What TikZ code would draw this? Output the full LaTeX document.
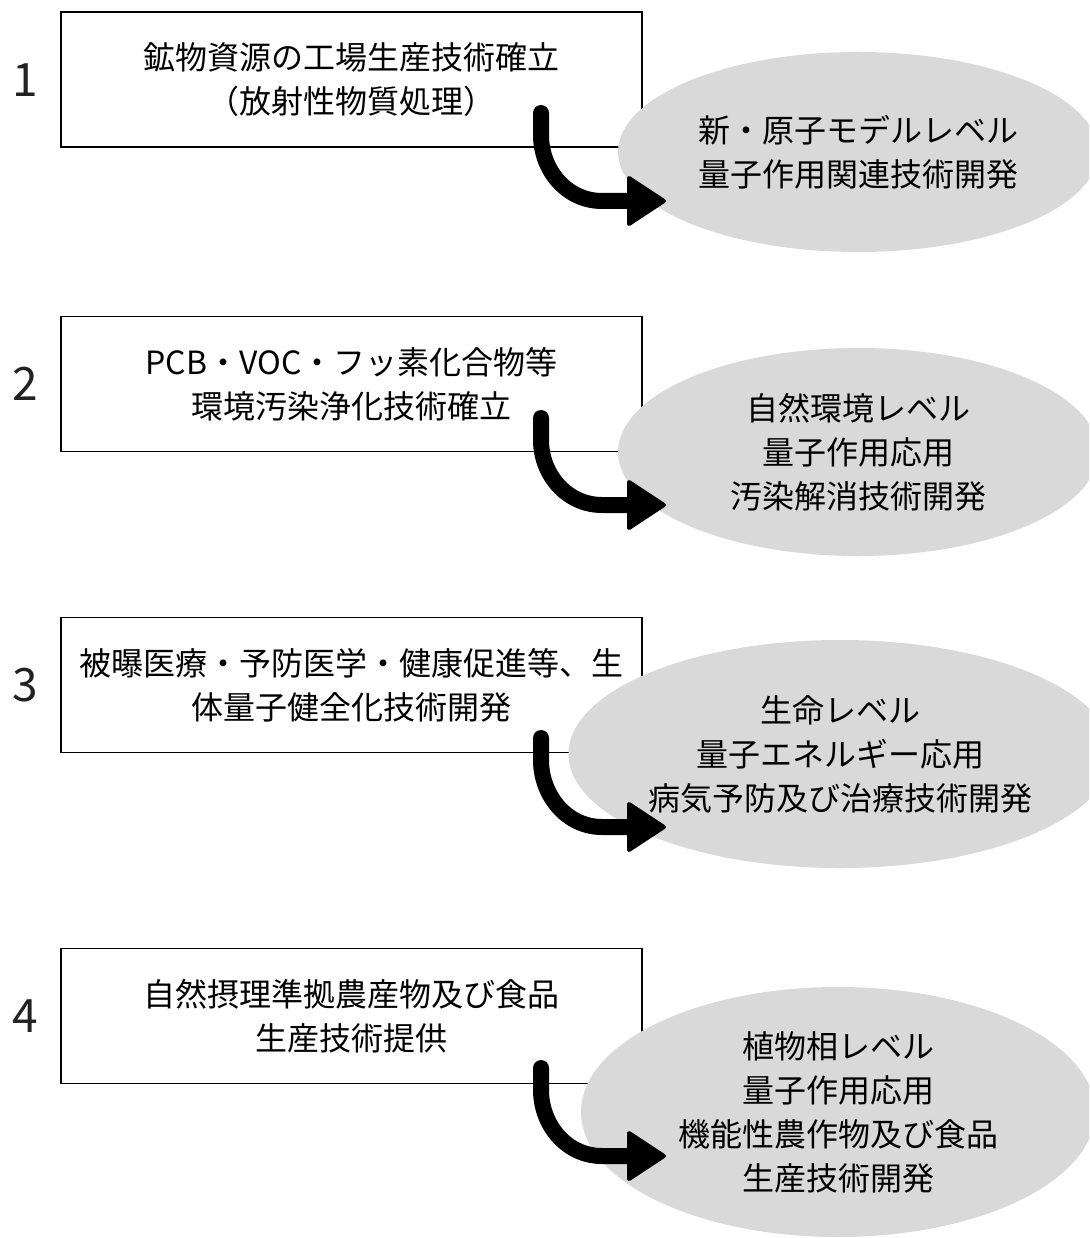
\documentclass[tikz,border=0pt]{standalone}
\usepackage{fontspec}
\setmainfont{Noto Sans CJK JP}
\usetikzlibrary{shapes.geometric,calc}
\definecolor{ellgray}{HTML}{D9D9D9}
\definecolor{numgray}{HTML}{222222}
\begin{document}
\begin{tikzpicture}[x=1pt,y=-1pt,
  box/.style={draw=black,line width=1.6pt,minimum width=581pt,minimum height=135pt,inner sep=0pt,align=center,font=\fontsize{32}{44}\selectfont},
  ell/.style={ellipse,fill=ellgray,inner sep=0pt,align=center,font=\fontsize{32}{44}\selectfont},
  num/.style={inner sep=0pt,text=numgray,font=\fontsize{46}{46}\selectfont},
  shaft/.style={line width=16pt,line cap=round},
  head/.style={fill=black,draw=black,line width=4pt,line join=round}]
\clip (0,0) rectangle (1089,1238);
\fill[white] (0,0) rectangle (1089,1238);

% numbers
\node[num] (n1) at (25,80) {1};
\node[num] (n2) at (25,384) {2};
\node[num] (n3) at (25,685) {3};
\node[num] (n4) at (25,1016) {4};

% boxes
\node[box] (b1) at (351.5,79.5) {鉱物資源の工場生産技術確立\\（放射性物質処理）};
\node[box] (b2) at (351.5,384) {PCB・VOC・フッ素化合物等\\環境汚染浄化技術確立};
\node[box] (b3) at (351.5,685) {被曝医療・予防医学・健康促進等、生\\体量子健全化技術開発};
\node[box] (b4) at (351.5,1016) {自然摂理準拠農産物及び食品\\生産技術提供};

% ellipses
\node[ell,minimum width=480pt,minimum height=200pt] (e1) at (858,152) {新・原子モデルレベル\\量子作用関連技術開発};
\node[ell,minimum width=480pt,minimum height=208pt] (e2) at (858,452) {自然環境レベル\\量子作用応用\\汚染解消技術開発};
\node[ell,minimum width=514pt,minimum height=228pt] (e3) at (840,754) {生命レベル\\量子エネルギー応用\\病気予防及び治療技術開発};
\node[ell,minimum width=514pt,minimum height=250pt] (e4) at (838,1112) {植物相レベル\\量子作用応用\\機能性農作物及び食品\\生産技術開発};

% arrows
\coordinate (s1) at (541,113);  \coordinate (h1) at (628,201);
\coordinate (s2) at (541,418);  \coordinate (h2) at (628,505);
\coordinate (s3) at (541,738);  \coordinate (h3) at (628,827);
\coordinate (s4) at (541,1068); \coordinate (h4) at (628,1156);

\foreach \i in {1,2,3,4}{
  \draw[shaft] (s\i) -- ($(s\i)+(0,22)$) to[out=-90,in=180] ($(h\i)+(-26,0)$) -- (h\i);
  \filldraw[head] ($(h\i)+(1,-23)$) -- ($(h\i)+(36,0)$) -- ($(h\i)+(1,23)$) -- cycle;
}
\end{tikzpicture}
\end{document}
